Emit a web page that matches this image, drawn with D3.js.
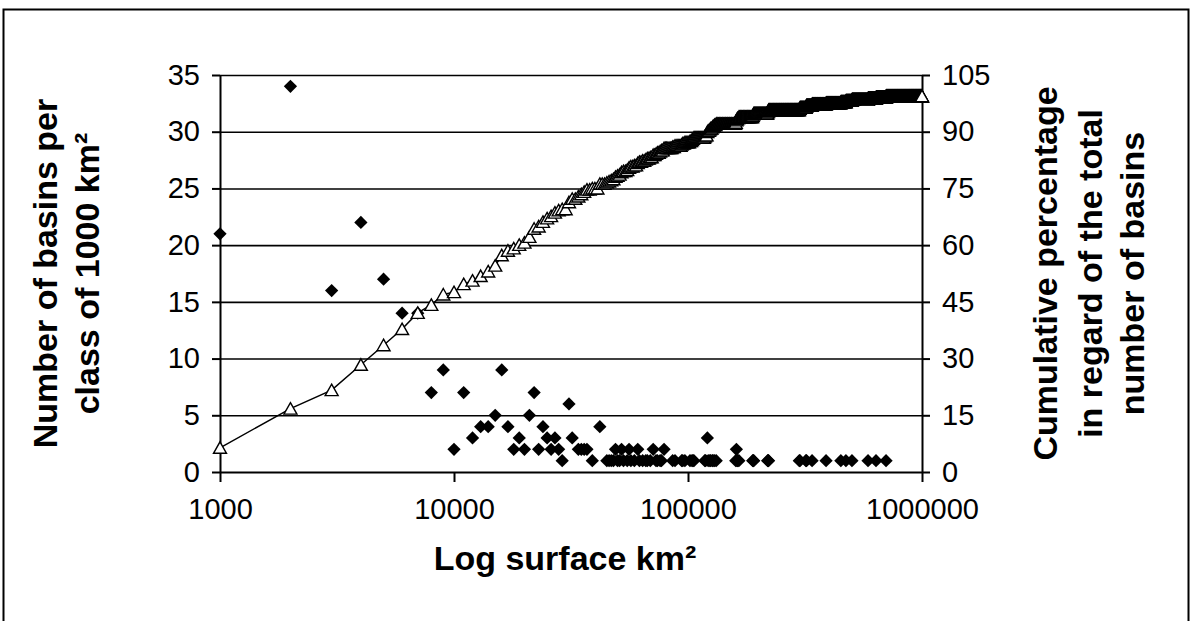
<!DOCTYPE html>
<html>
<head>
<meta charset="utf-8">
<script src="https://cdn.jsdelivr.net/npm/d3@7"></script>
<style>
  html, body { margin: 0; padding: 0; background: #fff; }
  svg { display: block; font-family: "Liberation Sans", Arial, sans-serif; }
</style>
</head>
<body>
<svg id="chart" width="1192" height="621"></svg>
<script>
// ---- data ----
// classes of 1000 km² that hold at least one basin, and the number of basins in each
const classKm2 = [
  1000, 2000, 3000, 4000, 5000, 6000, 7000, 8000, 9000, 10000,
  11000, 12000, 13000, 14000, 15000, 16000, 17000, 18000, 19000, 20000,
  21000, 22000, 23000, 24000, 25000, 26000, 27000, 28000, 29000,
  31000, 32000, 34000, 35000, 36000, 37000, 39000,
  42000, 45000, 46000, 47000, 48000, 49000, 50000, 51000, 52000, 53000,
  55000, 56000, 57000, 59000, 61000, 62000, 64000, 66000, 67000, 69000,
  71000, 73000, 74000, 76000, 77000, 79000,
  86000, 88000, 94000, 95000, 97000, 102000, 104000, 105000, 106000,
  118000, 119000, 121000, 122000, 124000, 125000, 127000, 128000, 130000, 132000,
  160000, 161000, 162000, 163000, 165000,
  189000, 190000, 191000, 219000, 220000, 221000,
  299000, 301000, 319000, 321000, 339000, 389000, 450000, 473000, 502000,
  588000, 636000, 702000
];
const basinCounts = [
  21, 34, 16, 22, 17, 14, 14, 7, 9, 2,
  7, 3, 4, 4, 5, 9, 4, 2, 3, 2,
  5, 7, 2, 4, 3, 2, 3, 2, 1,
  6, 3, 2, 2, 2, 2, 1,
  4, 1, 1, 1, 1, 2, 1, 1, 2, 1,
  1, 2, 1, 1, 2, 1, 1, 1, 1, 1,
  2, 1, 1, 1, 1, 2,
  1, 1, 1, 1, 1, 1, 1, 1, 1,
  1, 1, 3, 1, 1, 1, 1, 1, 1, 1,
  1, 2, 1, 1, 1,
  1, 1, 1, 1, 1, 1,
  1, 1, 1, 1, 1, 1, 1, 1, 1,
  1, 1, 1
];
// total number of basins (a few basins are larger than 1 000 000 km²)
const totalBasins = 328;
const classStepKm2 = 1000;
const lastClassKm2 = 1000000;

const xTickValues = [1000, 10000, 100000, 1000000];
const xTickLabels = ["1000", "10000", "100000", "1000000"];
const leftTickValues = [0, 5, 10, 15, 20, 25, 30, 35];
const rightTickValues = [0, 15, 30, 45, 60, 75, 90, 105];

const xTitle = "Log surface km²";
const leftTitle = ["Number of basins per", "class of 1000 km²"];
const rightTitle = ["Cumulative percentage", "in regard of the total", "number of basins"];

// ---- derived series: cumulative percentage at every class ----
const countByClass = new Map(classKm2.map((c, i) => [c, basinCounts[i]]));
const allClasses = d3.range(classStepKm2, lastClassKm2 + 1, classStepKm2);
let running = 0;
const cumulative = allClasses.map(c => {
  running += (countByClass.get(c) || 0);
  return { x: c, y: running / totalBasins * 100 };
});
const scatter = classKm2.map((c, i) => ({ x: c, y: basinCounts[i] }));

// ---- layout ----
const svg = d3.select("#chart");
const W = 1192, H = 621;
const plot = { left: 220, right: 922, top: 75, bottom: 472 };

svg.append("rect").attr("width", W).attr("height", H).attr("fill", "#fff");
// outer chart frame (bottom edge falls outside the picture)
svg.append("rect")
  .attr("x", 3.5).attr("y", 9.5).attr("width", 1185).attr("height", 640)
  .attr("fill", "none").attr("stroke", "#000").attr("stroke-width", 2);

const x = d3.scaleLog().domain([1000, 1000000]).range([plot.left, plot.right]);
const yL = d3.scaleLinear().domain([0, 35]).range([plot.bottom, plot.top]);
const yR = d3.scaleLinear().domain([0, 105]).range([plot.bottom, plot.top]);

const fontTick = 29, fontTitle = 34;

// gridlines
const grid = svg.append("g")
  .attr("transform", `translate(${plot.left},0)`)
  .call(d3.axisRight(yL).tickValues(leftTickValues.filter(v => v > 0))
    .tickSize(plot.right - plot.left).tickFormat(""));
grid.select(".domain").remove();
grid.selectAll("line").attr("stroke", "#000").attr("stroke-width", 1.6);

// left axis
const gL = svg.append("g")
  .attr("transform", `translate(${plot.left},0)`)
  .call(d3.axisLeft(yL).tickValues(leftTickValues).tickSize(8).tickSizeOuter(0).tickPadding(12));
// right axis
const gR = svg.append("g")
  .attr("transform", `translate(${plot.right},0)`)
  .call(d3.axisRight(yR).tickValues(rightTickValues).tickSize(8).tickSizeOuter(0).tickPadding(12));
// bottom axis
const gB = svg.append("g")
  .attr("transform", `translate(0,${plot.bottom})`)
  .call(d3.axisBottom(x).tickValues(xTickValues).tickFormat((d, i) => xTickLabels[i])
    .tickSize(10).tickSizeOuter(0).tickPadding(16));

[gL, gR, gB].forEach(g => {
  g.select(".domain").attr("stroke", "#000").attr("stroke-width", 2);
  g.selectAll(".tick line").attr("stroke", "#000").attr("stroke-width", 2);
  g.selectAll(".tick text").attr("fill", "#000")
    .style("font-size", fontTick + "px")
    .style("font-family", '"Liberation Sans", Arial, sans-serif');
});

// scatter: diamonds
svg.append("g").selectAll("path")
  .data(scatter).join("path")
  .attr("d", d3.symbol(d3.symbolSquare, 88)())
  .attr("transform", d => `translate(${x(d.x)},${yL(d.y)}) rotate(45)`)
  .attr("fill", "#000");

// cumulative line with open triangles
svg.append("path")
  .datum(cumulative)
  .attr("d", d3.line().x(d => x(d.x)).y(d => yR(d.y)))
  .attr("fill", "none").attr("stroke", "#000").attr("stroke-width", 1.5);

const tri = "M0,-6L6.5,5.5L-6.5,5.5Z";
svg.append("g").selectAll("path")
  .data(cumulative).join("path")
  .attr("d", tri)
  .attr("transform", d => `translate(${x(d.x)},${yR(d.y)})`)
  .attr("fill", "#fff").attr("stroke", "#000").attr("stroke-width", 1.4);

// titles
const midY = (plot.top + plot.bottom) / 2;
const half = fontTitle * 0.36;
svg.append("text")
  .attr("x", 565).attr("y", 558 + half)
  .attr("text-anchor", "middle")
  .style("font-size", fontTitle + "px").style("font-weight", "bold")
  .text(xTitle);

const leftX = [45, 87];
leftTitle.forEach((t, i) => {
  svg.append("text")
    .attr("transform", `translate(${leftX[i] + half},${midY}) rotate(-90)`)
    .attr("text-anchor", "middle")
    .style("font-size", fontTitle + "px").style("font-weight", "bold")
    .text(t);
});
const rightX = [1045, 1090, 1132];
rightTitle.forEach((t, i) => {
  svg.append("text")
    .attr("transform", `translate(${rightX[i] + half},${midY}) rotate(-90)`)
    .attr("text-anchor", "middle")
    .style("font-size", fontTitle + "px").style("font-weight", "bold")
    .text(t);
});
</script>
</body>
</html>
